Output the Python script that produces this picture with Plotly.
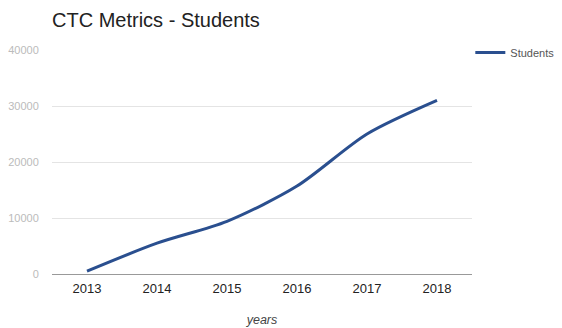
import plotly.graph_objects as go

years = ["2013", "2014", "2015", "2016", "2017", "2018"]
students = [500, 5500, 9400, 15700, 25000, 31000]
y_ticks = [0, 10000, 20000, 30000, 40000]

# The page body adds an 8px margin, so the figure is sized to fill the rest of the window.
W, H = 554, 320

fig = go.Figure()
fig.add_trace(go.Scatter(
    x=years, y=students, mode="lines", name="Students",
    line=dict(color="#2a4f8f", width=3, shape="spline", smoothing=0.8),
))

fig.update_layout(
    width=W, height=H,
    margin=dict(l=44, r=90, t=42, b=54, autoexpand=False),
    paper_bgcolor="white", plot_bgcolor="white",
    font=dict(family="Liberation Sans, Arial, sans-serif"),
    title=dict(text="CTC Metrics - Students", x=0, xanchor="left", xref="paper",
               y=1 - 5 / H, yanchor="top",
               font=dict(size=20, color="#222222")),
    showlegend=True,
    legend=dict(x=0.996, xanchor="left", y=1.054, yanchor="top", itemwidth=30,
                font=dict(size=11, color="#555555"), bgcolor="rgba(0,0,0,0)"),
    xaxis=dict(
        type="category", range=[-0.5, 5.5], showgrid=False,
        ticks="outside", ticklen=2, tickcolor="rgba(0,0,0,0)",
        tickfont=dict(size=13, color="#222222"),
        title=dict(text="<i>years</i>", font=dict(size=12.5, color="#444444"), standoff=20),
        showline=False, zeroline=False,
    ),
    yaxis=dict(
        range=[0, 40000], tickvals=y_ticks, ticktext=[str(v) for v in y_ticks],
        showgrid=True, gridcolor="#e4e4e4", gridwidth=1,
        zeroline=True, zerolinecolor="#999999", zerolinewidth=1,
        tickfont=dict(size=11, color="#bbbbbb"),
        ticks="outside", ticklen=10, tickcolor="rgba(0,0,0,0)",
    ),
)

fig.write_html("out.html")
